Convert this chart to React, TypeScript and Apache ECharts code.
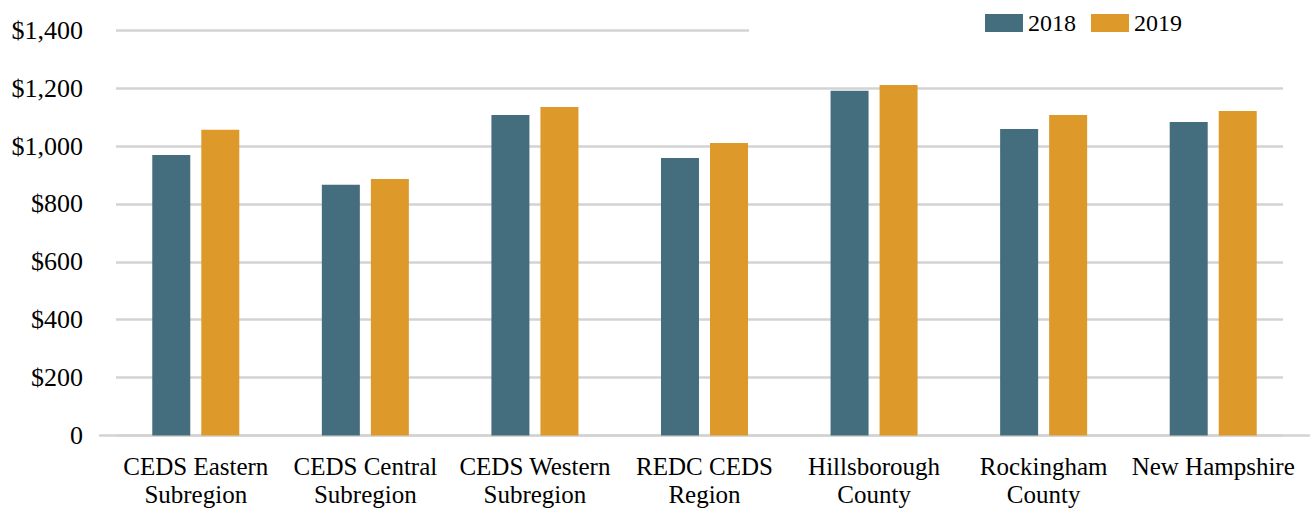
import { useEffect, useRef } from 'react';
import * as echarts from 'echarts';

// Regions shown along the horizontal axis
const categories = [
  'CEDS Eastern\nSubregion',
  'CEDS Central\nSubregion',
  'CEDS Western\nSubregion',
  'REDC CEDS\nRegion',
  'Hillsborough\nCounty',
  'Rockingham\nCounty',
  'New Hampshire',
];

const seriesNames = ['2018', '2019'];

// Average weekly wage, in dollars
const values2018 = [969, 866, 1107, 959, 1191, 1059, 1083];
const values2019 = [1056, 886, 1135, 1011, 1211, 1107, 1121];

const yMin = 0;
const yMax = 1400;
const yStep = 200;

const colors = ['#446d7d', '#dd9a2b'];
const gridColor = '#d3d3d3';
const font = 'Liberation Serif';

const formatDollar = (v: number) => (v === 0 ? '0' : '$' + v.toLocaleString('en-US'));

export default function App() {
  const ref = useRef<HTMLDivElement>(null);

  useEffect(() => {
    if (!ref.current) return;
    const chart = echarts.init(ref.current, undefined, { renderer: 'svg' });

    const top = 30.3;
    const bottom = 72.5;
    // keep every grid at its fixed place even when the bottom labels reach the edge
    const fixed = { top, bottom, outerBoundsMode: 'none', containLabel: false };

    chart.setOption({
      animation: false,
      backgroundColor: '#ffffff',
      textStyle: { fontFamily: font, color: '#000' },
      legend: {
        data: seriesNames,
        left: 749,
        top: 7,
        padding: [4, 120, 8, 236],
        backgroundColor: '#ffffff',
        icon: 'rect',
        itemWidth: 38,
        itemHeight: 18,
        itemGap: 15,
        textStyle: { fontFamily: font, fontSize: 24, color: '#000' },
        z: 10,
      },
      grid: [
        // plot area for the bars
        { left: 111, right: 15, ...fixed },
        // area for the value gridlines and labels
        { left: 116, right: 30, ...fixed },
        // baseline spanning the full width
        { left: 100, right: 4, ...fixed },
      ],
      xAxis: [
        {
          gridIndex: 0,
          type: 'category',
          data: categories,
          axisLine: { show: false },
          axisTick: { show: false },
          axisLabel: {
            interval: 0,
            margin: 17,
            fontFamily: font,
            fontSize: 25,
            lineHeight: 28,
            color: '#000',
          },
        },
        { gridIndex: 1, type: 'value', show: false },
        {
          gridIndex: 2,
          type: 'category',
          data: [''],
          axisLine: { show: true, lineStyle: { color: gridColor, width: 2.5 } },
          axisTick: { show: false },
          axisLabel: { show: false },
        },
      ],
      yAxis: [
        { gridIndex: 0, type: 'value', min: yMin, max: yMax, interval: yStep, show: false },
        {
          gridIndex: 1,
          type: 'value',
          min: yMin,
          max: yMax,
          interval: yStep,
          axisLine: { show: false },
          axisTick: { show: false },
          splitLine: { show: true, lineStyle: { color: gridColor, width: 2.5 } },
          axisLabel: {
            margin: 33,
            fontFamily: font,
            fontSize: 26,
            color: '#000',
            formatter: formatDollar,
          },
        },
        { gridIndex: 2, type: 'value', min: yMin, max: yMax, show: false },
      ],
      series: [
        {
          name: seriesNames[0],
          type: 'bar',
          xAxisIndex: 0,
          yAxisIndex: 0,
          data: values2018,
          barWidth: 38,
          barGap: '29%',
          itemStyle: { color: colors[0] },
          z: 3,
        },
        {
          name: seriesNames[1],
          type: 'bar',
          xAxisIndex: 0,
          yAxisIndex: 0,
          data: values2019,
          barWidth: 38,
          barGap: '29%',
          itemStyle: { color: colors[1] },
          z: 3,
        },
      ],
    });

    return () => chart.dispose();
  }, []);

  return (
    <div
      ref={ref}
      style={{ position: 'fixed', left: 0, top: 0, width: 1313, height: 508 }}
    />
  );
}
